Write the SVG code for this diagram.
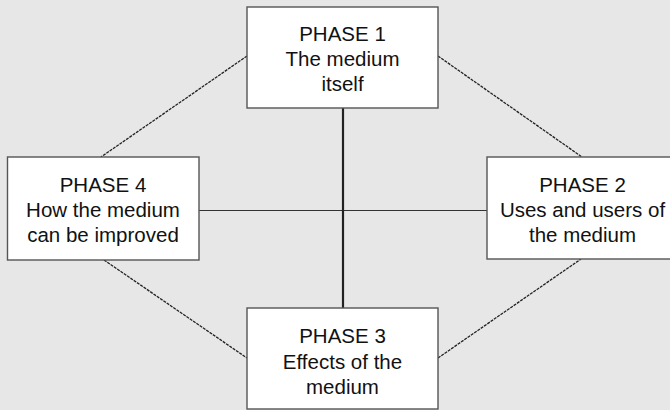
<svg xmlns="http://www.w3.org/2000/svg" width="670" height="410" viewBox="0 0 670 410">
<style>
.box{fill:#ffffff;stroke:#555555;stroke-width:1.4}
.t{font-family:"Liberation Sans",Arial,sans-serif;font-size:20.5px;fill:#111111;text-anchor:middle}
.diag{stroke:#222222;stroke-width:1.3;stroke-dasharray:3,1;fill:none}
.thin{stroke:#333333;stroke-width:1;fill:none}
.thick{stroke:#222222;stroke-width:2.2;fill:none}
</style>
<rect x="0" y="0" width="670" height="410" fill="#e6e7e6"/>
<g id="connectors">
<line class="diag" x1="247" y1="56" x2="101" y2="157"/>
<line class="diag" x1="438" y1="56" x2="582" y2="157"/>
<line class="diag" x1="104" y1="260" x2="247" y2="358"/>
<line class="diag" x1="438" y1="358" x2="581" y2="259"/>
<line class="thin" x1="199" y1="210.5" x2="487" y2="210.5"/>
<line class="thick" x1="343" y1="108" x2="343" y2="308"/>
</g>
<g id="phase1">
<rect class="box" x="247" y="7" width="191" height="101"/>
<text class="t" x="342.5" y="41">PHASE 1</text>
<text class="t" x="342.5" y="66">The medium</text>
<text class="t" x="342.5" y="91">itself</text>
</g>
<g id="phase4">
<rect class="box" x="7.5" y="157" width="191.5" height="103"/>
<text class="t" x="103" y="191.5">PHASE 4</text>
<text class="t" x="103" y="216.5">How the medium</text>
<text class="t" x="103" y="241.5">can be improved</text>
</g>
<g id="phase2">
<rect class="box" x="487" y="157" width="191" height="102"/>
<text class="t" x="582.5" y="191.5">PHASE 2</text>
<text class="t" x="582.5" y="216.5">Uses and users of</text>
<text class="t" x="582.5" y="241.5">the medium</text>
</g>
<g id="phase3">
<rect class="box" x="247" y="308" width="191" height="101"/>
<text class="t" x="342.5" y="343">PHASE 3</text>
<text class="t" x="342.5" y="369">Effects of the</text>
<text class="t" x="342.5" y="394">medium</text>
</g>
</svg>
